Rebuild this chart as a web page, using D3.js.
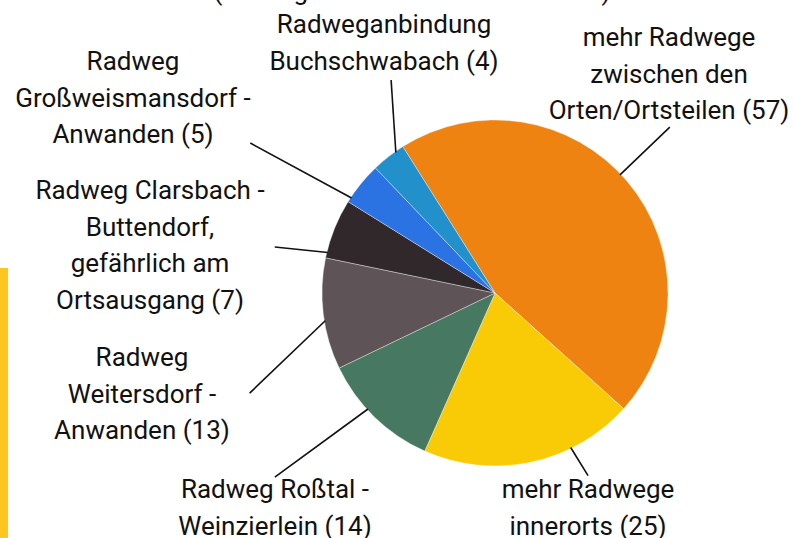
<html>
<head>
<meta charset="utf-8">
<script src="https://d3js.org/d3.v7.min.js"></script>
<style>
  body { margin: 0; background: #fff; }
  svg { display: block; font-family: Roboto, sans-serif; }
</style>
</head>
<body>
<svg width="794" height="538"></svg>
<script>
// data
var categories = [
  ["mehr Radwege", "zwischen den", "Orten/Ortsteilen"],
  ["mehr Radwege", "innerorts"],
  ["Radweg Roßtal -", "Weinzierlein"],
  ["Radweg", "Weitersdorf -", "Anwanden"],
  ["Radweg Clarsbach -", "Buttendorf,", "gefährlich am", "Ortsausgang"],
  ["Radweg", "Großweismansdorf -", "Anwanden"],
  ["Radweganbindung", "Buchschwabach"]
];
var values = [57, 25, 14, 13, 7, 5, 4];
var colors = ["#ef8311", "#f9cb06", "#477861", "#5e5356", "#31282b", "#2b72e3", "#2290cb"];
var title = "(Umfrage – Anzahl der Antworten)";

// layout
var cx = 495, cy = 293, radius = 173;
var startDeg = -32.2;
var fontSize = 26, lineH = 36.5;
// label centre x and first baseline y
var labelPos = [[669, 46], [588, 498], [275, 498], [142, 366], [150, 199], [133, 70], [384, 33]];
// leader: [edge angle, outer angle, outer radius]
var leaders = [[46.6, 46.5, 241], [153.9, 153, 205], [227.6, 230.1, 287], [260.7, 247.8, 265],
               [-76.4, -78.2, 225], [-56.5, -58.5, 287], [-35.2, -26, 237]];

var svg = d3.select("svg");

svg.append("rect")
  .attr("x", 0).attr("y", 268)
  .attr("width", 8).attr("height", 270)
  .attr("fill", "#ffc520");

svg.append("text")
  .attr("x", 412).attr("y", 0)
  .attr("text-anchor", "middle")
  .attr("font-size", 26)
  .attr("fill", "#111")
  .text(title);

var rad = function(d) { return d * Math.PI / 180; };
var pie = d3.pie().sort(null)
  .startAngle(rad(startDeg))
  .endAngle(rad(startDeg) + 2 * Math.PI);
var arc = d3.arc().innerRadius(0).outerRadius(radius);

var g = svg.append("g").attr("transform", "translate(" + cx + "," + cy + ")");

g.selectAll("path")
  .data(pie(values))
  .enter()
  .append("path")
  .attr("d", arc)
  .attr("fill", function(d, i) { return colors[i]; })
  .attr("stroke", "#fff")
  .attr("stroke-width", 0.6)
  .attr("stroke-opacity", 0.6);

function polar(a, r) { return [r * Math.sin(rad(a)), -r * Math.cos(rad(a))]; }

g.selectAll("line")
  .data(leaders)
  .enter()
  .append("line")
  .attr("x1", function(d) { return polar(d[0], radius - 1)[0]; })
  .attr("y1", function(d) { return polar(d[0], radius - 1)[1]; })
  .attr("x2", function(d) { return polar(d[1], d[2])[0]; })
  .attr("y2", function(d) { return polar(d[1], d[2])[1]; })
  .attr("stroke", "#111")
  .attr("stroke-width", 1.6);

var labels = svg.selectAll("text.lbl")
  .data(categories)
  .enter()
  .append("text")
  .attr("class", "lbl")
  .attr("text-anchor", "middle")
  .attr("font-size", fontSize)
  .attr("fill", "#111");

labels.each(function(lines, i) {
  var t = d3.select(this);
  lines.forEach(function(s, j) {
    t.append("tspan")
      .attr("x", labelPos[i][0])
      .attr("y", labelPos[i][1] + j * lineH)
      .text(j == lines.length - 1 ? s + " (" + values[i] + ")" : s);
  });
});
</script>
</body>
</html>
